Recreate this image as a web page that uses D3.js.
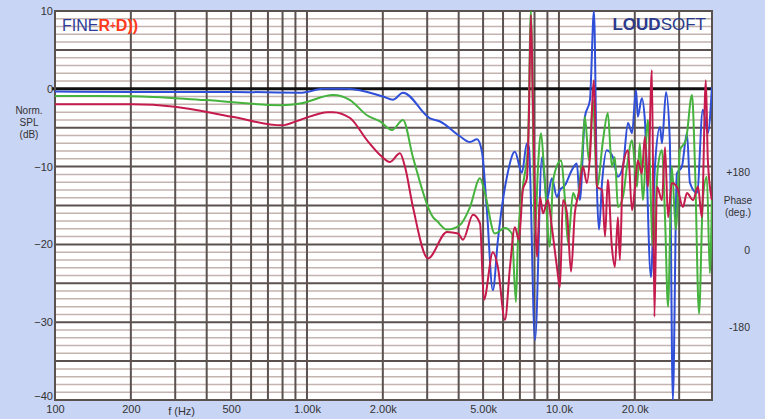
<!DOCTYPE html>
<html>
<head>
<meta charset="utf-8">
<script src="https://cdn.jsdelivr.net/npm/d3@7"></script>
<style>
  html, body { margin: 0; padding: 0; background: #c9d5f5; }
  svg { display: block; font-family: "Liberation Sans", Arial, sans-serif; }
</style>
</head>
<body>
<svg id="chart" width="765" height="419"></svg>
<script>
// ---- Data (frequency in Hz, level in dB) ----
const blueFreq = [100,202,504,938,982,1157,1442,2004,2193,2404,3079,3373,4047,4436,4731,4948,5176,5467,5723,5950,6218,6686,7126,7463,7600,8035,8566,8954,9376,9817,10092,10568,11272,11776,12106,12677,13274,13772,14158,14421,14825,15488,16368,17140,17947,18793,19498,20230,20559,21330,21928,23174,24044,25177,25645,26607,27542,28314,29376,30761,32211,33113,35318,37239,38995,40458];
const blueDb   = [-0.35,-0.4,-0.4,-0.5,-0.45,0,0,-1.0,-1.4,-0.5,-3.8,-4.2,-6.1,-6.85,-6.5,-8.1,-15.6,-25.9,-19.5,-15,-11.3,-8.1,-10.8,-7.0,-7.5,-32.3,-8.8,-14.3,-11.5,-13.9,-13,-12.4,-10.4,-9.6,-14.3,-3.6,-1.45,10,-13,-18.1,-12.1,-7.9,-8.8,-11.3,-10,-4.4,-5.7,-0.15,-3.6,-1.2,-4,-24.2,-10,-4.9,-7,-0.4,-6.6,-40,-10.9,-10,-5.7,-12.1,-13.4,-2.7,-5.7,0.2];

const greenFreq = [100,202,394,796,938,1268,1482,1730,1950,2175,2404,2634,3162,3281,3595,4047,4436,4862,5083,5567,6106,6505,6748,6871,7191,7531,7739,8035,8260,8489,8716,9204,9462,9907,10186,10568,10864,11376,11776,12331,12677,13152,13645,14158,14962,15631,16218,16672,17140,17947,18621,19498,20417,20941,21528,22542,23605,24717,25645,26363,27101,28054,29107,30200,31915,33729,34674,35975,37239,38637,39719,40458];
const greenDb   = [-0.93,-0.95,-1.45,-2.1,-1.9,-0.8,-1.45,-3.4,-4.2,-5.3,-4.0,-8.8,-16.5,-17,-18.1,-17.5,-15.2,-11.5,-13.4,-18.6,-17.9,-18.6,-27.4,-19.8,-12.6,-7.5,10,-18.6,-10,-5.7,-10,-20.3,-12.1,-9.6,-9.2,-14.3,-19.8,-13.4,-14.3,-8.8,-3.6,-9.2,-1.45,-12.6,-6.6,-3.1,-10,-8.8,-15.2,-13.9,-10,-6.6,-12.6,-7,-14.3,-4,-20.3,-10,-7.9,-16.5,-28,-10,-18.1,-7.9,-6.6,-0.8,-10,-28.9,-14.3,-11.3,-23.7,-14.3];

const redFreq = [100,202,299,504,796,938,1211,1268,1482,1730,1950,2135,2339,2448,2634,3023,3595,3975,4160,4560,4862,5038,5467,5723,6106,6394,6686,6934,7191,7463,7600,7739,7881,8185,8412,8645,9036,9376,9817,10092,10375,10765,11169,11561,11995,12445,12912,13274,13772,14158,14825,15241,15631,16218,16672,17140,17458,17947,18793,19498,20045,20559,21330,21928,22542,23388,23933,24491,25645,26363,27101,28054,29376,31046,32211,34041,35645,36898,38282,38995,40458];
const redDb   = [-2.0,-2.0,-2.3,-3.6,-4.7,-4.0,-3.0,-3.0,-3.75,-6.6,-8.5,-9.4,-8.3,-10,-15.2,-21.8,-18.4,-18.6,-19.4,-16.2,-17.3,-27.1,-21,-22.9,-29.7,-22.9,-17.8,-19.4,-13,-11.5,-3.6,9.5,-1.45,-21.6,-13.9,-16,-14.3,-17.8,-22.9,-25.5,-14.3,-16,-23.5,-16,-13.4,-10,-12.1,-8.8,1.1,-12.6,-13,-19,-11.7,-20.3,-22.9,-16.5,-22,-10,-7.9,-15.6,-12.6,-9.2,-10.9,-6.2,-12.6,2.4,-29.3,-12.6,-14.3,-7.5,-16.5,-12.1,-12.6,-15.2,-13.4,-14.3,-12.6,-16.5,1.1,-9.2,-14.3];

const xTickVals   = [100, 200, 500, 1000, 2000, 5000, 10000, 20000];
const xTickLabels = ["100", "200", "500", "1.00k", "2.00k", "5.00k", "10.0k", "20.0k"];
const yTickVals   = [10, 0, -10, -20, -30, -40];
const gridFreqs   = [200,300,400,500,600,700,800,900,1000,2000,3000,4000,5000,6000,7000,8000,9000,10000,20000,30000];
const phaseLabels = ["+180", "0", "-180"];
const phaseDb     = [-10.7, -20.7, -30.6];

// ---- Scales ----
const svg = d3.select("#chart");
const x = d3.scaleLog().domain([100, 40500]).range([55, 712]);
const y = d3.scaleLinear().domain([-40, 10]).range([400, 11]);

const darkGrid = "#5b524f";
const lightGrid = "#c4b3ae";

// plot background
svg.append("rect")
  .attr("x", x(100)).attr("y", y(10))
  .attr("width", x(40500) - x(100)).attr("height", y(-40) - y(10))
  .attr("fill", "#ffffff");

// minor horizontal grid (1 dB)
const minor = d3.range(-39, 10, 1).filter(v => v % 5 !== 0);
svg.append("g").selectAll("line").data(minor).join("line")
  .attr("x1", x(100)).attr("x2", x(40500))
  .attr("y1", d => y(d)).attr("y2", d => y(d))
  .attr("stroke", lightGrid).attr("stroke-width", 1.5);

// major horizontal grid (5 dB)
const major = d3.range(-35, 10, 5).filter(v => v !== 0);
svg.append("g").selectAll("line").data(major).join("line")
  .attr("x1", x(100)).attr("x2", x(40500))
  .attr("y1", d => y(d)).attr("y2", d => y(d))
  .attr("stroke", darkGrid).attr("stroke-width", 2);

// vertical grid
svg.append("g").selectAll("line").data(gridFreqs).join("line")
  .attr("x1", d => x(d)).attr("x2", d => x(d))
  .attr("y1", y(10)).attr("y2", y(-40))
  .attr("stroke", darkGrid).attr("stroke-width", 2);

// zero line
svg.append("line")
  .attr("x1", x(100) - 3).attr("x2", x(40500))
  .attr("y1", y(0)).attr("y2", y(0))
  .attr("stroke", "#111").attr("stroke-width", 3);

// frame
svg.append("rect")
  .attr("x", x(100)).attr("y", y(10))
  .attr("width", x(40500) - x(100)).attr("height", y(-40) - y(10))
  .attr("fill", "none").attr("stroke", darkGrid).attr("stroke-width", 2);

// clip
svg.append("clipPath").attr("id", "clip").append("rect")
  .attr("x", x(100)).attr("y", y(10))
  .attr("width", x(40500) - x(100)).attr("height", y(-40) - y(10));

const line = d3.line().x(d => x(d[0])).y(d => y(d[1])).curve(d3.curveMonotoneX);
const series = [
  { f: blueFreq, v: blueDb, c: "#2f4fd8" },
  { f: greenFreq, v: greenDb, c: "#45b33d" },
  { f: redFreq, v: redDb, c: "#c41a4c" }
];
const gLines = svg.append("g").attr("clip-path", "url(#clip)");
series.forEach(s => {
  gLines.append("path")
    .datum(s.f.map((f, i) => [f, s.v[i]]))
    .attr("d", line)
    .attr("fill", "none")
    .attr("stroke", s.c)
    .attr("stroke-width", 2)
    .attr("stroke-linejoin", "round");
});

// axes labels
const xAxis = d3.axisBottom(x).tickValues(xTickVals)
  .tickFormat((d, i) => xTickLabels[i]).tickSize(0).tickPadding(5);
const gx = svg.append("g").attr("transform", `translate(0,${y(-40)})`).call(xAxis);
gx.select(".domain").remove();
gx.selectAll("text").attr("font-size", 11).attr("fill", "#333")
  .attr("font-family", "Liberation Sans, Arial, sans-serif");

const yAxis = d3.axisLeft(y).tickValues(yTickVals).tickSize(0).tickPadding(2);
const gy = svg.append("g").attr("transform", `translate(${x(100)},0)`).call(yAxis);
gy.select(".domain").remove();
gy.selectAll("text").attr("font-size", 11).attr("fill", "#333")
  .attr("font-family", "Liberation Sans, Arial, sans-serif");
gy.selectAll(".tick").filter(d => d === -40).select("text").attr("dy", "-0.05em");

svg.append("text").attr("x", x(318)).attr("y", 415)
  .attr("text-anchor", "middle").attr("font-size", 11).attr("fill", "#333").text("f (Hz)");

// Y title
["Norm.", "SPL", "(dB)"].forEach((t, i) => {
  svg.append("text").attr("x", 29).attr("y", 114 + i * 12)
    .attr("text-anchor", "middle").attr("font-size", 10).attr("fill", "#333").text(t);
});

// phase labels (right)
phaseLabels.forEach((t, i) => {
  svg.append("text").attr("x", 750).attr("y", y(phaseDb[i]) + 4)
    .attr("text-anchor", "end").attr("font-size", 10.5).attr("fill", "#333").text(t);
});
svg.append("text").attr("x", 738).attr("y", 204).attr("text-anchor", "middle")
  .attr("font-size", 10).attr("fill", "#333").text("Phase");
svg.append("text").attr("x", 738).attr("y", 216).attr("text-anchor", "middle")
  .attr("font-size", 10).attr("fill", "#333").text("(deg.)");

// logos
const fine = svg.append("text").attr("x", 62).attr("y", 31).attr("font-size", 16)
  .attr("font-family", "Liberation Sans, Arial, sans-serif");
fine.append("tspan").attr("fill", "#2d3b98").text("FINE");
fine.append("tspan").attr("fill", "#ff3a1c").attr("font-weight", "bold").text("R");
fine.append("tspan").attr("fill", "#ff3a1c").attr("font-size", 10).attr("font-weight", "bold").attr("dy", -2).text("+");
fine.append("tspan").attr("fill", "#ff3a1c").attr("font-weight", "bold").attr("dy", 2).text("D))");

const ls = svg.append("text").attr("x", 706).attr("y", 30).attr("font-size", 17)
  .attr("text-anchor", "end").attr("fill", "#2b3a8c");
ls.append("tspan").attr("font-weight", "bold").text("LOUD");
ls.append("tspan").text("SOFT");
</script>
</body>
</html>
